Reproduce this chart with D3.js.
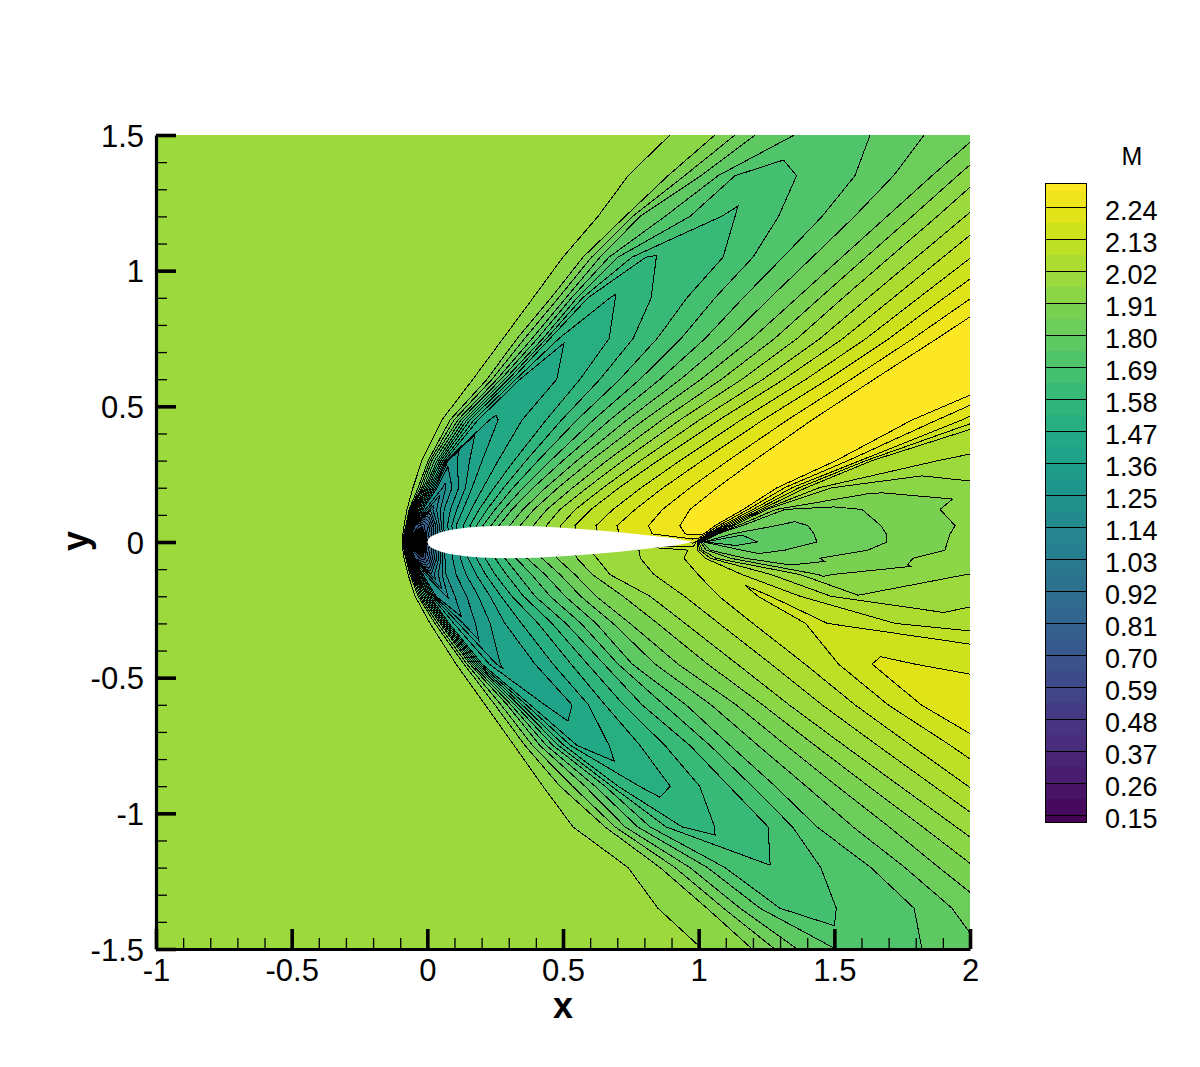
<!DOCTYPE html>
<html><head><meta charset="utf-8">
<script src="https://cdn.jsdelivr.net/npm/d3@7"></script>
<style>html,body{margin:0;padding:0;background:#fff}svg{display:block}text{font-family:"Liberation Sans",Arial,sans-serif;fill:#000}</style>
</head><body><svg id="c" width="1200" height="1067"></svg>
<script>
const _ = null;
// Structured mesh: one row per y, each column is a contour branch.
const rowY = [1.5,1.35,1.2,1.05,.9,.75,.6,.45,.3,.2,.12,.06,.03,0,-.03,-.06,-.12,-.2,-.3,-.45,-.6,-.75,-.9,-1.05,-1.2,-1.35,-1.5];
const shockLevels = [1.965,1.91,1.80,1.69,1.58,1.47,1.25,.8];
const shockX = [
[.894,1.060,1.208,_,_,_,_,_],
[.740,.887,1.009,1.134,_,_,_,_],
[.629,.729,.784,.968,_,_,_,_],
[.500,.574,.637,.703,.806,_,_,_],
[.390,.456,.511,.552,.592,_,_,_],
[.279,.331,.386,.426,.452,_,_,_],
[.168,.220,.257,.286,.312,.342,_,_],
[.054,.084,.113,.135,.157,.187,_,_],
[-.020,.003,.017,.036,.050,.065,_,_],
[-.053,-.034,-.020,-.008,.003,.014,.036,_],
[-.075,-.067,-.060,-.053,-.045,-.038,-.016,_],
[-.086,-.079,-.075,-.071,-.067,-.064,-.056,-.045],
[-.090,-.086,-.082,-.079,-.075,-.071,-.067,-.056],
[-.093,-.090,-.086,-.082,-.079,-.075,-.071,-.060],
[-.090,-.086,-.082,-.079,-.075,-.071,-.067,-.056],
[-.086,-.079,-.075,-.071,-.067,-.064,-.056,-.045],
[-.071,-.064,-.056,-.049,-.042,-.034,-.016,_],
[-.045,-.034,-.023,-.012,-.001,.010,.032,_],
[.010,.028,.047,.058,.069,.080,_,_],
[.106,.135,.157,.172,.187,.202,_,_],
[.213,.249,.294,.323,.349,.379,_,_],
[.320,.360,.415,.463,.504,.552,_,_],
[.426,.489,.581,.655,.703,_,_,_],
[.537,.655,.729,.821,.939,_,_,_],
[.740,.858,.968,1.097,_,_,_,_],
[.850,1.031,1.153,1.300,_,_,_,_],
[1.013,1.197,1.363,_,_,_,_,_]];
const valleyX = [1.392,1.263,1.105,.835,.681,.515,.415,.231,.080,.062,.014,-.020,-.031,-.023,-.027,-.016,.017,.073,.143,.257,.452,.618,.802,1.005,1.282,1.429,1.595];
const valleyM = [1.73,1.665,1.625,1.578,1.52,1.475,1.43,1.413,1.27,1.18,1.06,.72,.3,.14,.32,.72,1.05,1.19,1.27,1.355,1.395,1.445,1.51,1.565,1.64,1.675,1.71];
const fanLevels = [.8,1.25,1.415,1.525,1.635,1.745,1.855,1.965,2.075,2.185,2.295];
const fanX = [
[_,_,_,_,_,1.632,2.030,2.225,2.457,2.723,3.033],
[_,_,_,_,_,1.576,1.860,2.048,2.269,2.516,2.800],
[_,_,_,_,1.134,1.455,1.694,1.879,2.085,2.313,2.571],
[_,_,_,_,1.090,1.311,1.528,1.705,1.901,2.111,2.343],
[_,_,_,_,.957,1.164,1.363,1.532,1.717,1.905,2.107],
[_,_,_,.670,.847,1.024,1.197,1.363,1.532,1.702,1.879],
[_,_,_,.563,.710,.858,1.009,1.160,1.315,1.477,1.647],
[_,_,.261,.438,.552,.673,.799,.931,1.075,1.237,1.418],
[_,_,.202,.320,.408,.500,.603,.721,.850,1.013,1.204],
[_,.091,.165,.246,.316,.390,.482,.589,.707,.869,1.068],
[_,.062,.132,.191,.250,.312,.393,.489,.603,.766,.968],
[.003,.058,.106,.157,.205,.264,.342,.438,.544,.699,.931],
[-.005,.065,.113,.165,.213,.272,.349,.445,.552,.707,.950],
[-.001,.065,.113,.165,.213,.272,.349,.445,.552,.707,_],
[-.005,.065,.143,.209,.283,.364,.474,.600,.961,_,_],
[.003,.065,.150,.213,.286,.367,.478,.625,.946,_,_],
[_,.069,.180,.250,.334,.434,.544,.673,.998,_,_],
[_,.102,.231,.312,.397,.508,.622,.821,1.075,_,_],
[_,_,.286,.408,.511,.622,.747,.950,1.200,_,_],
[_,_,.397,.530,.651,.755,.924,1.142,1.392,1.639,_],
[_,_,.533,.655,.791,.953,1.138,1.333,1.576,1.820,_],
[_,_,_,.784,.968,1.116,1.322,1.536,1.783,2.074,_],
[_,_,_,.895,1.112,1.282,1.510,1.742,1.993,2.295,_],
[_,_,_,_,1.256,1.436,1.702,1.949,2.203,2.516,_],
[_,_,_,_,_,1.635,1.886,2.155,2.413,2.738,_],
[_,_,_,_,_,1.794,2.074,2.358,2.623,2.959,_],
[_,_,_,_,_,1.823,2.262,2.564,2.833,3.080,_]];
const peakX = [3.585,3.401,3.217,2.922,2.664,2.443,1.927,1.595,1.355,1.171,1.072,.994,.976,.979,.976,.968,1.097,1.245,1.429,1.724,2.295,2.553,2.848,3.069,3.291,3.512,3.770];
const peakM = [2.33,2.33,2.33,2.33,2.33,2.33,2.33,2.33,2.33,2.33,2.33,2.33,2.31,2.2,2.08,2.08,2.12,2.14,2.14,2.195,2.21,2.21,2.21,2.21,2.21,2.21,2.21];
const wakeLevels = [2.295,2.185,2.075,1.965,1.855,1.745];
const wakeX = [
[_,_,_,_,_,_],[_,_,_,_,_,_],[_,_,_,_,_,_],[_,_,_,_,_,_],[_,_,_,_,_,_],[_,_,_,_,_,_],
[2.137,2.295,2.443,_,_,_],
[1.787,1.971,2.111,_,_,_],
[1.506,1.595,1.639,_,_,_],
[1.289,1.344,1.396,1.492,_,_],
[1.164,1.200,1.230,1.252,1.318,_],
[1.060,1.086,1.105,1.127,1.160,_],
[1.020,1.035,1.046,1.057,1.071,_],
[_,.987,.994,1.001,1.013,1.024],
[_,_,.994,1.013,1.042,_],
[_,_,1.024,1.064,1.171,_],
[_,_,1.160,1.374,_,_],
[_,_,1.374,_,_,_],
[_,_,1.724,_,_,_],
[_,1.797,3.217,_,_,_],
[_,_,_,_,_,_],[_,_,_,_,_,_],[_,_,_,_,_,_],[_,_,_,_,_,_],[_,_,_,_,_,_],[_,_,_,_,_,_],[_,_,_,_,_,_]];
const wakeMinX = [_,_,_,_,_,_,2.848,2.479,1.927,1.742,1.466,1.318,1.171,1.097,1.190,1.263,1.447,1.595,2.111,3.585,_,_,_,_,_,_,_];
const wakeMinM = [_,_,_,_,_,_,1.98,2.05,2.01,1.93,1.845,1.785,1.75,1.715,1.785,1.82,1.905,1.968,2.055,2.0,_,_,_,_,_,_,_];
const riseLevels = [1.80,1.855,1.91];
const riseX = [
[_,_,_],[_,_,_],[_,_,_],[_,_,_],[_,_,_],[_,_,_],[_,_,_],[_,_,_],[_,_,_],[_,_,_],
[_,1.602,1.890],
[1.403,1.672,1.945],
[1.425,1.691,1.927],
[1.436,1.694,1.916],
[1.318,1.624,1.908],
[_,1.447,1.790],
[_,_,_],[_,_,_],[_,_,_],[_,_,_],[_,_,_],[_,_,_],[_,_,_],[_,_,_],[_,_,_],[_,_,_],[_,_,_]];
const endM = [_,_,_,_,_,_,_,_,2.02,1.97,1.94,1.93,1.93,1.92,1.93,1.94,2.0,2.03,2.06,_,_,_,_,_,_,_,_];
const freeStream = 2.0;
const foilX = [0,.004,.012,.025,.05,.075,.1,.15,.2,.25,.3,.4,.5,.6,.7,.8,.9,.977];
const foilY = [0,.011,.0189,.0262,.0355,.042,.0468,.0534,.0574,.0594,.06,.0581,.0529,.0456,.0366,.0262,.0145,.0005];
const xMajor = [-1,-.5,0,.5,1,1.5,2];
const yMajor = [-1.5,-1,-.5,0,.5,1,1.5];
const xMinor = d3.range(-10,21).map(d=>d/10).filter(d=>Math.abs(d*2-Math.round(d*2))>1e-6);
const yMinor = d3.range(-15,16).map(d=>d/10).filter(d=>Math.abs(d*2-Math.round(d*2))>1e-6);
const legendLabels = [.15,.26,.37,.48,.59,.70,.81,.92,1.03,1.14,1.25,1.36,1.47,1.58,1.69,1.80,1.91,2.02,2.13,2.24];
const levels = d3.range(0,40).map(k=>+(0.15+0.055*k).toFixed(3));

const svg = d3.select("#c");
const x = d3.scaleLinear([-1,2],[156,970]);
const y = d3.scaleLinear([-1.5,1.5],[949,135]);
const tone = d3.scaleLinear([0,34,40],[0,.85,1]);
const bandColor = k => d3.interpolateViridis(tone(k)); // k = 0 below the lowest level

// Assemble mesh rows: collapsed (null) branches sit on their neighbouring anchor.
function fill(xs, ls, leftX, leftM, rightX, rightM){
  const last = xs.reduce((a,v,i)=>v!==null?i:a,-1), first = xs.findIndex(v=>v!==null);
  return xs.map((v,i)=> v!==null ? [v,ls[i]]
    : (first<0 || i>last) ? [rightX,rightM] : [leftX,leftM]);
}
const meshRows = rowY.map((_y,r)=>{
  const vx=valleyX[r], vm=valleyM[r], px=peakX[r], pm=peakM[r];
  const wx=wakeMinX[r]??px, wm=wakeMinM[r]??pm;
  const em=endM[r]??wm, ex=Math.max(2.3,wx+.2);
  const L=fill(shockX[r],shockLevels,vx,vm,vx,vm);
  const F=fill(fanX[r],fanLevels,vx,vm,px,pm);
  const D=fill(wakeX[r],wakeLevels,px,pm,wx,wm);
  const A=fill(riseX[r],riseLevels,wx,wm,ex,em);
  return [[-1.5,freeStream],...L,[vx,vm],...F,[px,pm],...D,[wx,wm],...A,[ex,em]];
});
const allRows=[meshRows[0],...meshRows,meshRows[meshRows.length-1]];
const allY=[1.9,...rowY,-1.9];
const ny=allRows.length, nx=allRows[0].length;
const values=allRows.flat().map(d=>d[1]);
const contours=d3.contours().size([nx,ny]).smooth(true).thresholds(levels.map(l=>l-1e-6))(values);
const rowScale=d3.scaleLinear(d3.range(ny),allY);
const toMesh=d3.geoTransform({point(cx,cy){
  const i=Math.max(0,Math.min(nx-1,cx-.5)), j=Math.max(0,Math.min(ny-1,cy-.5));
  const i0=Math.min(nx-2,Math.floor(i)), j0=Math.min(ny-2,Math.floor(j));
  const a=i-i0, b=j-j0;
  const xa=allRows[j0][i0][0]*(1-a)+allRows[j0][i0+1][0]*a;
  const xb=allRows[j0+1][i0][0]*(1-a)+allRows[j0+1][i0+1][0]*a;
  this.stream.point(x(xa*(1-b)+xb*b), y(rowScale(j)));
}});
const path=d3.geoPath(toMesh);

svg.append("clipPath").attr("id","plot").append("rect")
  .attr("x",x(-1)).attr("y",y(1.5)).attr("width",x(2)-x(-1)).attr("height",y(-1.5)-y(1.5));
const plot=svg.append("g").attr("clip-path","url(#plot)");
plot.append("rect").attr("x",x(-1)).attr("y",y(1.5)).attr("width",x(2)-x(-1)).attr("height",y(-1.5)-y(1.5)).attr("fill",bandColor(0));
plot.selectAll("path.band").data(contours).join("path").attr("class","band")
  .attr("d",path).attr("fill",(d,i)=>bandColor(i+1));
plot.selectAll("path.iso").data(contours).join("path").attr("class","iso")
  .attr("d",path).attr("fill","none").attr("stroke","#000").attr("stroke-width",1).attr("shape-rendering","crispEdges");

const foil=[...foilX.map((d,i)=>[d,foilY[i]]),...foilX.map((d,i)=>[d,-foilY[i]]).reverse()];
plot.append("path").attr("d",d3.line(d=>x(d[0]),d=>y(d[1]))(foil)+"Z").attr("fill","#fff");

// axes
const fmt=d=>String(d);
const gx=svg.append("g").attr("transform",`translate(0,${y(-1.5)})`);
gx.append("g").call(d3.axisBottom(x).tickValues(xMinor).tickSize(-11).tickFormat("").tickSizeOuter(0))
  .call(g=>g.select(".domain").remove()).selectAll("line").attr("stroke-width",1.3).attr("stroke","#000");
gx.append("g").call(d3.axisBottom(x).tickValues(xMajor).tickSize(-20).tickFormat(fmt).tickSizeOuter(0))
  .call(g=>{g.select(".domain").attr("stroke","#000").attr("stroke-width",3.2);
    g.selectAll("line").attr("stroke-width",3.6).attr("stroke","#000");
    g.selectAll("text").attr("y",32).attr("dy",0).attr("font-size",31).attr("font-family",'"Liberation Sans"');});
const gy=svg.append("g").attr("transform",`translate(${x(-1)},0)`);
gy.append("g").call(d3.axisLeft(y).tickValues(yMinor).tickSize(-11).tickFormat("").tickSizeOuter(0))
  .call(g=>g.select(".domain").remove()).selectAll("line").attr("stroke-width",1.3).attr("stroke","#000");
gy.append("g").call(d3.axisLeft(y).tickValues(yMajor).tickSize(-20).tickFormat(fmt).tickSizeOuter(0))
  .call(g=>{g.select(".domain").attr("stroke","#000").attr("stroke-width",3.2);
    g.selectAll("line").attr("stroke-width",3.6).attr("stroke","#000");
    g.selectAll("text").attr("x",-12).attr("dy",11).attr("font-size",31).attr("font-family",'"Liberation Sans"');});
svg.append("text").attr("x",563).attr("y",1018).attr("text-anchor","middle").attr("font-size",36).attr("font-weight","bold").text("x");
svg.append("text").attr("transform","translate(88,541) rotate(-90)").attr("text-anchor","middle").attr("font-size",36).attr("font-weight","bold").text("y");

// legend
const ly=d3.scaleLinear([.15,2.24],[815,207]);
const lTop=183, lBot=822, lX=1045, lW=41;
const legend=svg.append("g");
legend.selectAll("rect.b").data(d3.range(41)).join("rect").attr("class","b")
  .attr("x",lX).attr("width",lW)
  .attr("y",k=>k===40?lTop:k===0?ly(levels[0]):ly(levels[k]))
  .attr("height",k=>k===40?ly(levels[39])-lTop:k===0?lBot-ly(levels[0]):ly(levels[k-1])-ly(levels[k]))
  .attr("fill",k=>bandColor(k));
legend.selectAll("line").data(legendLabels).join("line")
  .attr("x1",lX).attr("x2",lX+lW).attr("y1",d=>ly(d)).attr("y2",d=>ly(d)).attr("stroke","#000").attr("stroke-width",1).attr("shape-rendering","crispEdges");
legend.append("rect").attr("x",lX).attr("y",lTop).attr("width",lW).attr("height",lBot-lTop).attr("fill","none").attr("stroke","#000").attr("stroke-width",1).attr("shape-rendering","crispEdges");
legend.selectAll("text.l").data(legendLabels).join("text").attr("class","l")
  .attr("x",1105).attr("y",d=>ly(d)+13).attr("font-size",27).text(d=>d.toFixed(2));
legend.append("text").attr("x",1132).attr("y",165).attr("text-anchor","middle").attr("font-size",25).text("M");
</script></body></html>
